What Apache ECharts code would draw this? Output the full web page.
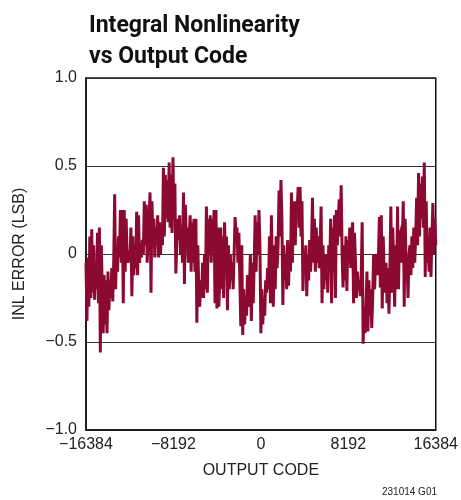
<!DOCTYPE html>
<html><head><meta charset="utf-8">
<script src="https://cdn.jsdelivr.net/npm/echarts@6/dist/echarts.min.js"></script>
<style>html,body{margin:0;padding:0;background:#fff}#c{width:461px;height:500px}</style>
</head><body><div id="c"></div>
<script>
var titleText = "Integral Nonlinearity\nvs Output Code";
var xName = "OUTPUT CODE";
var yName = "INL ERROR (LSB)";
var noteText = "231014 G01";
var xTicks = [-16384, -8192, 0, 8192, 16384];
var yTicks = [-1.0, -0.5, 0, 0.5, 1.0];
var codeMin = -16384, codeMax = 16384;
// INL error (LSB), sampled evenly along the output code range
var inlValues = [
 -0.05,-0.38,-0.02,-0.30,
 0.10,-0.25,0.14,-0.22,0.05,-0.26,
 -0.05,-0.20,0.12,-0.28,
 0.15,-0.56,0.05,
 -0.20,-0.45,-0.12,-0.40,
 -0.15,-0.45,-0.10,-0.32,
 -0.15,-0.25,-0.08,-0.27,-0.05,
 0.34,-0.20,
 0.05,-0.10,0.10,-0.02,
 0.25,-0.05,0.25,-0.28,
 0.25,-0.10,0.20,
 0.00,-0.05,0.02,-0.04,
 0.15,-0.24,0.10,-0.12,
 0.00,-0.08,
 0.24,-0.12,0.22,-0.05,
 0.05,-0.02,0.08,0.00,
 0.30,0.05,0.28,-0.05,
 0.10,0.20,
 0.35,-0.22,0.30,0.10,
 0.20,-0.02,0.15,0.05,
 0.22,-0.02,0.18,0.00,
 0.15,0.05,
 0.49,0.10,0.45,
 0.20,0.42,0.18,
 0.52,0.15,
 0.45,0.12,
 0.55,0.20,0.40,
 -0.11,0.05,
 0.20,0.08,0.22,0.00,
 0.10,-0.05,
 0.35,-0.17,0.28,
 0.05,0.15,-0.05,0.10,
 0.22,-0.10,0.18,
 -0.05,0.20,-0.10,
 0.20,-0.39,0.05,
 -0.20,-0.30,-0.15,-0.25,
 -0.05,-0.25,0.00,-0.20,
 0.27,-0.22,0.20,0.00,
 0.22,-0.05,0.20,0.05,
 0.25,-0.28,
 0.25,-0.31,0.15,
 -0.30,-0.15,
 0.15,-0.20,0.10,-0.25,
 0.18,-0.05,0.10,-0.32,
 0.05,-0.20,0.00,-0.15,
 -0.05,-0.20,0.00,
 0.21,0.10,0.15,
 -0.05,0.12,-0.15,
 -0.41,0.05,
 -0.46,-0.20,-0.40,
 -0.25,-0.35,
 -0.12,-0.30,-0.20,
 0.00,-0.38,-0.05,
 -0.28,-0.05,
 0.22,-0.10,0.18,0.00,
 0.25,0.05,
 -0.45,-0.20,-0.40,
 -0.25,-0.35,-0.15,
 -0.22,-0.08,-0.20,
 0.10,-0.28,0.22,-0.10,
 -0.30,0.05,-0.20,
 0.10,-0.08,0.05,
 0.36,0.10,0.42,0.20,
 -0.29,
 0.05,-0.15,0.00,-0.20,
 0.08,-0.18,0.05,-0.10,
 0.35,-0.05,0.30,
 0.15,0.05,
 0.30,0.25,0.38,
 0.15,0.38,0.10,0.30,
 -0.21,0.00,-0.10,
 0.05,-0.24,0.00,-0.15,
 0.08,-0.10,0.05,
 0.32,-0.05,
 0.20,-0.10,0.15,-0.05,
 0.10,-0.08,0.05,
 0.27,-0.28,
 0.05,-0.20,0.00,-0.15,
 0.00,-0.22,0.05,-0.10,
 0.20,-0.28,0.15,
 -0.10,0.22,-0.25,
 0.25,0.05,0.20,
 0.31,0.10,
 0.39,0.00,
 -0.19,0.05,-0.15,0.10,
 -0.21,0.08,-0.05,
 0.15,-0.08,0.10,
 0.18,-0.28,0.12,-0.05,
 -0.25,-0.10,-0.20,
 -0.15,-0.24,-0.12,
 0.18,-0.51,-0.30,
 -0.45,-0.30,
 -0.10,-0.44,-0.15,-0.35,
 -0.20,-0.42,-0.25,
 0.00,-0.20,-0.05,
 0.00,-0.12,-0.02,
 0.21,-0.19,
 0.22,-0.31,0.10,
 -0.10,-0.22,-0.05,-0.28,
 -0.08,-0.34,-0.10,
 0.27,-0.22,0.15,
 -0.05,-0.30,0.05,-0.20,
 0.27,-0.20,0.10,
 0.12,-0.05,0.08,
 0.30,-0.30,0.20,-0.10,
 -0.05,-0.25,0.00,
 0.05,-0.12,0.10,-0.08,
 0.15,-0.05,0.10,
 0.32,0.05,
 0.46,0.10,0.40,
 0.20,0.44,0.15,
 0.52,-0.13,0.30,
 -0.05,0.10,-0.10,
 0.15,-0.13,0.10,
 0.29,0.00,0.20,0.05
];
var codeStep = (codeMax - codeMin) / (inlValues.length - 1);
var seriesData = inlValues.map(function (v, i) { return [codeMin + i * codeStep, v]; });

var FONT = '"Liberation Sans Narrow","Liberation Sans",Arial,sans-serif';
var TFONT = 'Roboto,"Liberation Sans",sans-serif';
function fmtNum(v, dec) {
  var s = dec ? Math.abs(v).toFixed(dec) : String(Math.abs(v));
  if (v === 0) return "0";
  return (v < 0 ? "\u2212" : "") + s;
}
var chart = echarts.init(document.getElementById('c'), null, {renderer: 'canvas'});
chart.setOption({
  animation: false,
  backgroundColor: '#fff',
  title: {
    text: titleText, left: 84, top: 6,
    textStyle: {fontFamily: TFONT, fontWeight: 'bold', fontSize: 23, lineHeight: 31, color: '#111'}
  },
  graphic: [{
    type: 'text', right: 24, bottom: 3,
    style: {text: noteText, font: '10px ' + FONT, fill: '#222'}
  }],
  grid: {left: 86, right: 24, top: 78, bottom: 70, show: true, borderColor: '#111', borderWidth: 1.5, backgroundColor: 'transparent'},
  xAxis: {
    type: 'value', min: codeMin, max: codeMax, interval: 8192,
    name: xName, nameLocation: 'middle', nameGap: 33,
    nameTextStyle: {fontFamily: FONT, fontSize: 16, color: '#222'},
    axisLine: {show: true, onZero: false, lineStyle: {color: '#111', width: 1.5}},
    axisTick: {show: false},
    splitLine: {show: false},
    axisLabel: {fontFamily: FONT, fontSize: 16, color: '#222', margin: 7,
      formatter: function (v) { return xTicks.indexOf(v) >= 0 ? fmtNum(v, 0) : ''; }}
  },
  yAxis: {
    type: 'value', min: -1, max: 1, interval: 0.5,
    name: yName, nameLocation: 'middle', nameGap: 58,
    nameTextStyle: {fontFamily: FONT, fontSize: 16, color: '#222'},
    axisLine: {show: true, onZero: false, lineStyle: {color: '#111', width: 1.5}},
    axisTick: {show: false},
    splitLine: {show: true, lineStyle: {color: '#333', width: 1}},
    axisLabel: {fontFamily: FONT, fontSize: 16, color: '#222', margin: 9,
      formatter: function (v) { return yTicks.indexOf(v) >= 0 ? (v === 0 ? '0' : fmtNum(v, 1)) : ''; }}
  },
  series: [{
    type: 'line', data: seriesData, showSymbol: false, symbol: 'none',
    lineStyle: {color: '#8c0a32', width: 3, join: 'miter'},
    z: 3
  }]
});
</script></body></html>
